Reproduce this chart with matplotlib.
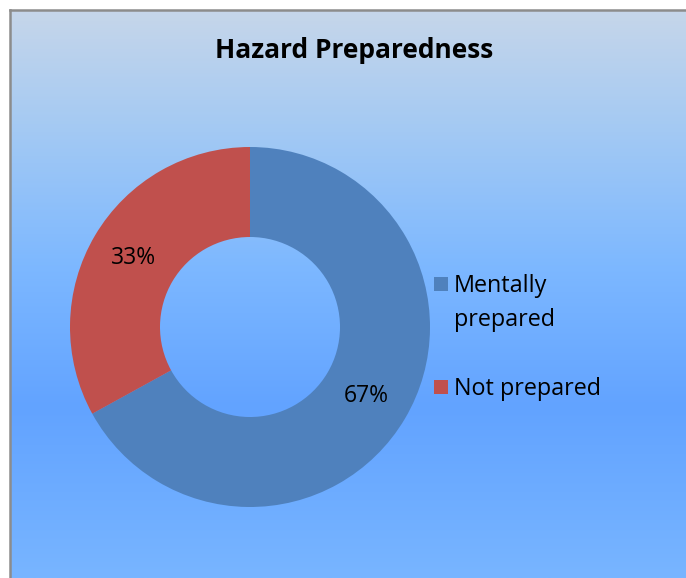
import numpy as np
import matplotlib.pyplot as plt
from matplotlib.colors import LinearSegmentedColormap
from matplotlib.patches import Rectangle

plt.rcParams['font.family'] = ['Open Sans', 'DejaVu Sans']

title = 'Hazard Preparedness'
labels = ['Mentally\nprepared', 'Not prepared']
shares = [67, 33]
colors = ['#4F81BD', '#C0504D']

W, H = 686, 578
fig = plt.figure(figsize=(W / 100, H / 100), dpi=100)
fig.patch.set_facecolor('white')

# background panel with vertical gradient
bg = fig.add_axes([10 / W, 0, 1 - 10 / W, 1 - 10 / H])
grad = LinearSegmentedColormap.from_list(
    'bg', [(0, '#C6D6EA'), (0.2, '#A5CAF3'), (0.45, '#7DB8FF'),
           (0.7, '#62A3FF'), (1, '#78B5FF')])
bg.imshow(np.linspace(0, 1, 256).reshape(-1, 1), aspect='auto', cmap=grad,
          extent=[0, 1, 0, 1])
bg.set_xticks([])
bg.set_yticks([])
for side in ['right', 'bottom']:
    bg.spines[side].set_visible(False)
for side in ['left', 'top']:
    bg.spines[side].set_color('#8C8C8C')
    bg.spines[side].set_linewidth(1.8)

fig.text(354 / W, 1 - 50 / H, title, ha='center', va='center',
         fontsize=19, fontweight='bold', color='black')

# donut
cx, cy, r = 250, 327, 180
ax = fig.add_axes([(cx - r) / W, (H - cy - r) / H, 2 * r / W, 2 * r / H])
ax.set_facecolor('none')
wedges, _, autotexts = ax.pie(shares, colors=colors, startangle=90,
                              counterclock=False, radius=1,
                              autopct='%d%%', pctdistance=0.75,
                              wedgeprops=dict(width=0.5, linewidth=0),
                              textprops=dict(fontsize=16.5, color='black'))
ax.set_xlim(-1, 1)
ax.set_ylim(-1, 1)
ax.set_aspect('equal')
ax.axis('off')

# legend drawn by hand so the marker sits on the first text line
leg_y = [284, 387]
for lab, col, y in zip(labels, colors, leg_y):
    fig.add_artist(Rectangle((434 / W, 1 - (y + 7) / H), 14 / W, 14 / H,
                             transform=fig.transFigure, facecolor=col,
                             edgecolor='none'))
    fig.text(454 / W, 1 - (y - 10) / H, lab, ha='left', va='top',
             fontsize=16.8, linespacing=1.55, color='black')

fig.savefig('out.png', dpi=100)
